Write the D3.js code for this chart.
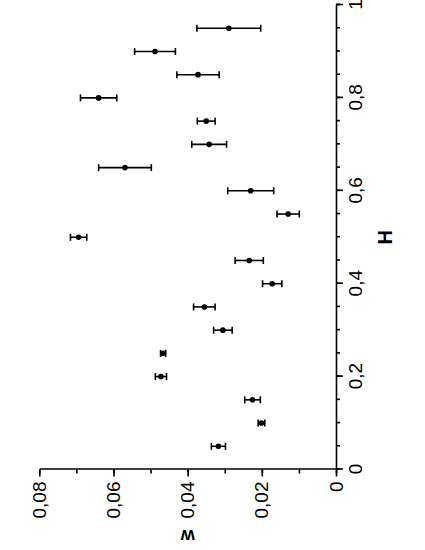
<!DOCTYPE html>
<html>
<head>
<meta charset="utf-8">
<script src="https://cdn.jsdelivr.net/npm/d3@7"></script>
<style>
  body { margin: 0; background: #fff; }
  svg { display: block; }
  .axis path, .axis line { stroke: #000; stroke-width: 1.6; }
  .axis text { font-family: "Liberation Sans", Arial, sans-serif; fill: #000; }
</style>
</head>
<body>
<div id="graphWrapper"></div>
<script>
// H values (horizontal variable of the original, drawn rotated)
var hValues = [0.05, 0.10, 0.15, 0.20, 0.25, 0.30, 0.35, 0.40, 0.45, 0.50,
               0.55, 0.60, 0.65, 0.70, 0.75, 0.80, 0.85, 0.90, 0.95];
// w values and their error half-widths
var wValues = [0.0317, 0.0201, 0.0225, 0.0472, 0.0466, 0.0305, 0.0355, 0.0172, 0.0234, 0.0694,
               0.0129, 0.0230, 0.0569, 0.0342, 0.0350, 0.0640, 0.0372, 0.0488, 0.0289];
var wErrors = [0.0019, 0.0009, 0.0021, 0.0015, 0.0007, 0.0025, 0.0029, 0.0026, 0.0038, 0.0022,
               0.0030, 0.0062, 0.0071, 0.0047, 0.0024, 0.0049, 0.0057, 0.0055, 0.0086];
var hTicks = [0, 0.2, 0.4, 0.6, 0.8, 1];
var hTickLabels = ["0", "0,2", "0,4", "0,6", "0,8", "1"];
var wTicks = [0, 0.02, 0.04, 0.06, 0.08];
var wTickLabels = ["0", "0,02", "0,04", "0,06", "0,08"];

var w = 425, h = 550;
// the whole plot is drawn normally and then turned a quarter turn
var width = 464.5;   // length of H axis
var height = 296.7;  // length of w axis
var origin = { x: 39.3, y: 469.5 };

var svg = d3.select("#graphWrapper").append("svg")
    .attr("width", w)
    .attr("height", h);

var chart = svg.append("g")
    .attr("transform", "translate(" + origin.x + "," + origin.y + ") rotate(-90)");

var x = d3.scaleLinear().domain([0, 1]).range([0, width]);
var y = d3.scaleLinear().domain([0, 0.08]).range([height, 0]);

// minor ticks
chart.append("g")
    .classed("axis", true)
    .attr("transform", "translate(0," + height + ")")
    .call(d3.axisBottom(x).tickValues(d3.range(0, 1.001, 0.05)).tickSize(4).tickFormat(""))
    .select(".domain").remove();
chart.append("g")
    .classed("axis", true)
    .call(d3.axisLeft(y).tickValues(d3.range(0, 0.0801, 0.01)).tickSize(4).tickFormat(""))
    .select(".domain").remove();

// major ticks
var xAxis = d3.axisBottom(x)
    .tickValues(hTicks)
    .tickSize(7)
    .tickSizeOuter(0)
    .tickPadding(6)
    .tickFormat(function(d, i){ return hTickLabels[i]; });
var yAxis = d3.axisLeft(y)
    .tickValues(wTicks)
    .tickSize(7)
    .tickSizeOuter(0)
    .tickPadding(5)
    .tickFormat(function(d, i){ return wTickLabels[i]; });

var gx = chart.append("g")
    .classed("x axis", true)
    .attr("transform", "translate(0," + height + ")")
    .call(xAxis);
gx.selectAll("text").style("font-size", "19px");

var gy = chart.append("g")
    .classed("y axis", true)
    .call(yAxis);
gy.selectAll("text").style("font-size", "19px");

// axis titles
chart.append("text")
    .attr("x", width / 2)
    .attr("y", height + 49)
    .attr("text-anchor", "middle")
    .attr("dominant-baseline", "central")
    .style("font-family", "Liberation Sans, Arial, sans-serif")
    .style("font-weight", "bold")
    .style("font-size", "20px")
    .text("H");
chart.append("text")
    .attr("transform", "translate(-66," + height / 2 + ") rotate(-90)")
    .attr("text-anchor", "middle")
    .attr("dominant-baseline", "central")
    .style("font-family", "Liberation Sans, Arial, sans-serif")
    .style("font-weight", "bold")
    .style("font-size", "18px")
    .text("w");

// error bars
var data = hValues.map(function(d, i){
    return { h: d, w: wValues[i], e: wErrors[i] };
});

var bars = chart.selectAll(".err")
    .data(data)
    .enter()
    .append("g")
    .classed("err", true)
    .attr("stroke", "#000")
    .attr("stroke-width", 1.6);
bars.append("line")
    .attr("x1", function(d){ return x(d.h); })
    .attr("x2", function(d){ return x(d.h); })
    .attr("y1", function(d){ return y(d.w - d.e); })
    .attr("y2", function(d){ return y(d.w + d.e); });
bars.append("line")
    .attr("x1", function(d){ return x(d.h) - 3.5; })
    .attr("x2", function(d){ return x(d.h) + 3.5; })
    .attr("y1", function(d){ return y(d.w - d.e); })
    .attr("y2", function(d){ return y(d.w - d.e); });
bars.append("line")
    .attr("x1", function(d){ return x(d.h) - 3.5; })
    .attr("x2", function(d){ return x(d.h) + 3.5; })
    .attr("y1", function(d){ return y(d.w + d.e); })
    .attr("y2", function(d){ return y(d.w + d.e); });

chart.selectAll(".point")
    .data(data)
    .enter()
    .append("circle")
    .classed("point", true)
    .attr("r", 2.8)
    .attr("cx", function(d){ return x(d.h); })
    .attr("cy", function(d){ return y(d.w); })
    .attr("fill", "#000");
</script>
</body>
</html>
